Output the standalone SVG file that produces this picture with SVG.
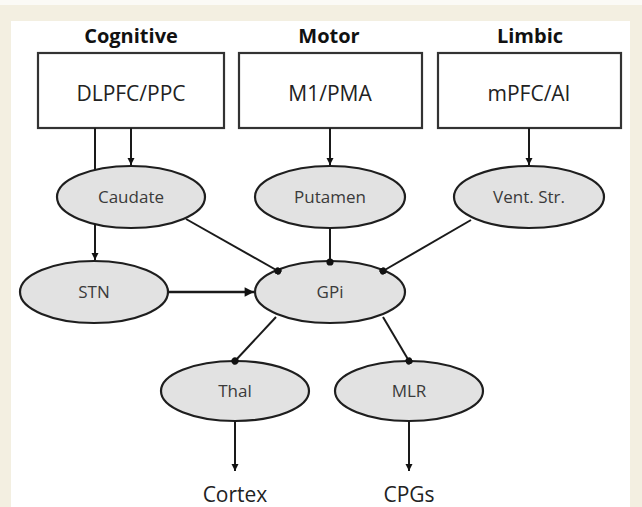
<svg xmlns="http://www.w3.org/2000/svg" width="642" height="507" viewBox="0 0 642 507">
<defs>
<marker id="arr" viewBox="0 0 10 10" refX="10" refY="5" markerWidth="3.8" markerHeight="3.6" markerUnits="strokeWidth" orient="auto">
<path d="M0,0 L10,5 L0,10 z" fill="#111"/>
</marker>
<marker id="dot" viewBox="0 0 10 10" refX="5" refY="5" markerWidth="3.6" markerHeight="3.6" markerUnits="strokeWidth" orient="auto">
<circle cx="5" cy="5" r="5" fill="#111"/>
</marker>
</defs>
<style>
.box{fill:#fff;stroke:#333;stroke-width:2.2}
.ell{fill:#e2e2e2;stroke:#1e1e1e;stroke-width:2.2}
.ttl{font-family:"Open Sans","Liberation Sans",sans-serif;font-weight:bold;font-size:20px;fill:#111;text-anchor:middle}
.btx{font-family:"Open Sans","Liberation Sans",sans-serif;font-size:21px;fill:#222;text-anchor:middle}
.etx{font-family:"Open Sans","Liberation Sans",sans-serif;font-size:17px;fill:#3a3a3a;text-anchor:middle}
.otx{font-family:"Open Sans","Liberation Sans",sans-serif;font-size:21px;fill:#222;text-anchor:middle}
.ln{stroke:#1a1a1a;stroke-width:2;fill:none}
.ex{marker-end:url(#arr)}
.in{marker-end:url(#dot)}
</style>
<rect x="0" y="0" width="642" height="507" fill="#f3efe1"/>
<rect x="0" y="0" width="642" height="5" fill="#fbfaf6"/>
<rect x="11" y="21" width="619" height="486" fill="#ffffff"/>

<text class="ttl" x="131" y="43">Cognitive</text>
<text class="ttl" x="329" y="43">Motor</text>
<text class="ttl" x="530" y="43">Limbic</text>

<g id="dlpfc"><rect class="box" x="38" y="53" width="186" height="75"/><text class="btx" x="131" y="101">DLPFC/PPC</text></g>
<g id="m1pma"><rect class="box" x="239" y="53" width="183" height="75"/><text class="btx" x="330" y="101">M1/PMA</text></g>
<g id="mpfc"><rect class="box" x="438" y="53" width="183" height="75"/><text class="btx" x="529" y="101">mPFC/AI</text></g>

<g id="caudate"><ellipse class="ell" cx="131" cy="197" rx="74" ry="31"/><text class="etx" x="131" y="203">Caudate</text></g>
<g id="putamen"><ellipse class="ell" cx="330" cy="197" rx="75" ry="31"/><text class="etx" x="330" y="203">Putamen</text></g>
<g id="ventstr"><ellipse class="ell" cx="529" cy="197" rx="75" ry="31"/><text class="etx" x="529" y="203">Vent. Str.</text></g>
<g id="stn"><ellipse class="ell" cx="94" cy="292" rx="74" ry="31"/><text class="etx" x="94" y="298">STN</text></g>
<g id="gpi"><ellipse class="ell" cx="330" cy="292" rx="75" ry="31"/><text class="etx" x="330" y="298">GPi</text></g>
<g id="thal"><ellipse class="ell" cx="235" cy="391" rx="74" ry="30"/><text class="etx" x="235" y="397">Thal</text></g>
<g id="mlr"><ellipse class="ell" cx="409" cy="391" rx="74" ry="30"/><text class="etx" x="409" y="397">MLR</text></g>
<g id="cortex"><text class="otx" x="235" y="502">Cortex</text></g>
<g id="cpgs"><text class="otx" x="409" y="502">CPGs</text></g>

<g id="connectors">
<line class="ln" x1="95" y1="128" x2="95" y2="170"/>
<line class="ln ex" x1="95" y1="224" x2="95" y2="260"/>
<line class="ln ex" x1="131" y1="128" x2="131" y2="165"/>
<line class="ln ex" x1="330" y1="128" x2="330" y2="165"/>
<line class="ln ex" x1="529" y1="128" x2="529" y2="165"/>
<line class="ln ex" x1="168" y1="292" x2="254" y2="292" style="stroke-width:2.6"/>
<line class="ln in" x1="186" y1="219" x2="278" y2="271"/>
<line class="ln in" x1="330" y1="228" x2="330" y2="262"/>
<line class="ln in" x1="471" y1="220" x2="383" y2="271"/>
<line class="ln in" x1="276" y1="317" x2="235" y2="361"/>
<line class="ln in" x1="383" y1="317" x2="409" y2="361"/>
<line class="ln ex" x1="235" y1="421" x2="235" y2="471"/>
<line class="ln ex" x1="409" y1="421" x2="409" y2="471"/>
</g>
</svg>
